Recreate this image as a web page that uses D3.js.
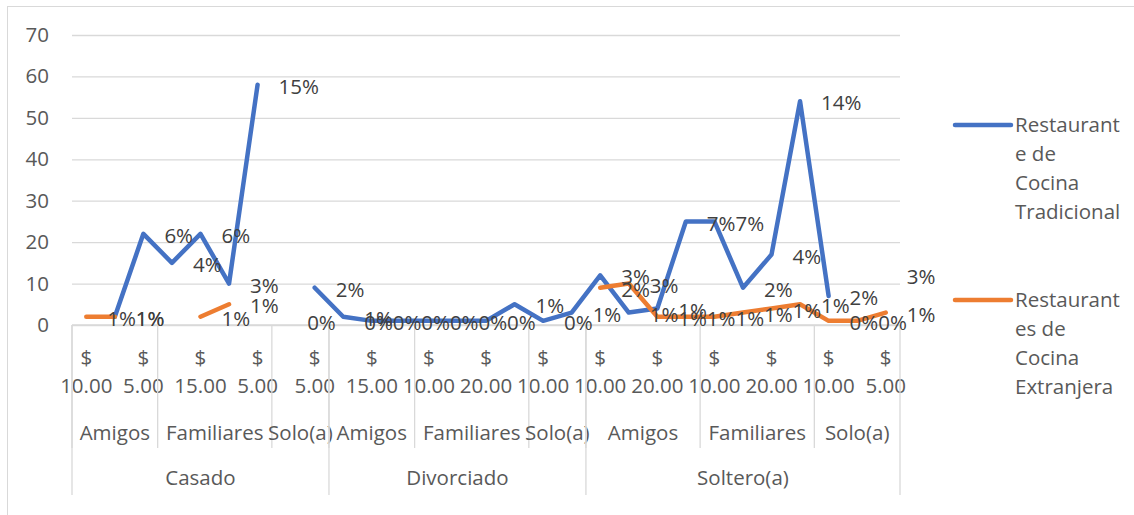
<!DOCTYPE html>
<html>
<head>
<meta charset="utf-8">
<script src="https://cdn.jsdelivr.net/npm/d3@7"></script>
<style>
body { margin: 0; background: #fff; }
text { font-family: "Open Sans", sans-serif; }
</style>
</head>
<body>
<div id="chartdiv"></div>
<script>
var estados = ["Casado", "Divorciado", "Soltero(a)"];
var companias = ["Amigos", "Familiares", "Solo(a)"];
var precios = [
  [["$ 10.00", "$ 15.00", "$ 5.00"], ["$ 10.00", "$ 15.00", "$ 20.00", "$ 5.00"], ["$ 10.00", "$ 5.00"]],
  [["$ 10.00", "$ 15.00", "$ 20.00"], ["$ 10.00", "$ 15.00", "$ 20.00", "$ 5.00"], ["$ 10.00", "$ 15.00"]],
  [["$ 10.00", "$ 15.00", "$ 20.00", "$ 5.00"], ["$ 10.00", "$ 15.00", "$ 20.00", "$ 5.00"], ["$ 10.00", "$ 15.00", "$ 5.00"]]
];

var tradicional = [null, 2, 22, 15, 22, 10, 58, null, 9, 2, 1, 1, 1, 1, 1, 5, 1, 3, 12, 3, 4, 25, 25, 9, 17, 54, 7, null, 12];
var extranjera = [2, 2, null, null, 2, 5, null, 1, null, 1, null, null, null, null, null, null, null, null, 9, 10, 2, 2, 2, 3, 4, 5, 1, 1, 3];

var etqTradicional = [null, "1%", "6%", "4%", "6%", "3%", "15%", null, "2%", "1%", "0%", "0%", "0%", "0%", "0%", "1%", "0%", "1%", "3%", "1%", "1%", "7%", "7%", "2%", "4%", "14%", "2%", null, "3%"];
var etqExtranjera = ["1%", "1%", null, null, "1%", "1%", null, "0%", null, "0%", null, null, null, null, null, null, null, null, "2%", "3%", "1%", "1%", "1%", "1%", "1%", "1%", "0%", "0%", "1%"];

var nombres = [["Restaurant", "e de", "Cocina", "Tradicional"], ["Restaurant", "es de", "Cocina", "Extranjera"]];
var colores = ["#4472C4", "#ED7D31"];
var yTicks = [0, 10, 20, 30, 40, 50, 60, 70];

function drawChart() {
  // flatten the three category levels
  var cats = [];
  estados.forEach(function (e, gi) {
    companias.forEach(function (c, si) {
      precios[gi][si].forEach(function (p) {
        cats.push({estado: e, con: c, precio: p, key: e + "|" + c + "|" + p});
      });
    });
  });

  var W = 1134, H = 515;
  var pl = 72, pr = 900, pt = 35, pb = 325;
  var fs = "20.5px", grey = "#595959", grid = "#d9d9d9";

  var svg = d3.select("#chartdiv").append("svg")
    .attr("width", W).attr("height", H);

  svg.append("rect")
    .attr("x", 7.5).attr("y", 6.5).attr("width", W).attr("height", H)
    .attr("fill", "none").attr("stroke", grid);

  var x = d3.scaleBand().domain(cats.map(function (d) { return d.key; })).range([pl, pr]);
  var y = d3.scaleLinear().domain([0, 70]).range([pb, pt]);
  var cx = function (i) { return x(cats[i].key) + x.bandwidth() / 2; };

  // y axis with gridlines
  var ya = svg.append("g")
    .attr("transform", "translate(" + pl + ",0)")
    .call(d3.axisLeft(y).tickValues(yTicks).tickSize(-(pr - pl)).tickPadding(23));
  ya.select(".domain").remove();
  ya.selectAll("line").attr("stroke", grid).attr("stroke-width", 1.3);
  ya.selectAll("text").attr("fill", grey).style("font-size", fs).style("font-family", "Open Sans");

  // category axis
  var xa = svg.append("g");
  xa.append("line").attr("x1", pl).attr("x2", pr).attr("y1", pb).attr("y2", pb)
    .attr("stroke", grid).attr("stroke-width", 1.3);

  cats.forEach(function (c, i) {
    if (i % 2 != 0) return;
    var parts = c.precio.split(" ");
    xa.append("text").attr("x", cx(i)).attr("y", 358).attr("dy", "0.35em")
      .attr("text-anchor", "middle").attr("fill", grey).style("font-size", fs).text(parts[0]);
    xa.append("text").attr("x", cx(i)).attr("y", 386).attr("dy", "0.35em")
      .attr("text-anchor", "middle").attr("fill", grey).style("font-size", fs).text(parts[1]);
  });

  function runs(field) {
    var out = [];
    cats.forEach(function (c, i) {
      var k = field == "estado" ? c.estado : c.estado + "|" + c.con;
      if (!out.length || out[out.length - 1].k != k) out.push({k: k, label: c[field], a: i, b: i});
      else out[out.length - 1].b = i;
    });
    return out;
  }

  var subs = runs("con"), grps = runs("estado");
  subs.forEach(function (s) {
    var x0 = x(cats[s.a].key), x1 = x(cats[s.b].key) + x.bandwidth();
    xa.append("line").attr("x1", x0).attr("x2", x0).attr("y1", pb).attr("y2", 448)
      .attr("stroke", grid).attr("stroke-width", 1.3);
    xa.append("text").attr("x", (x0 + x1) / 2).attr("y", 433).attr("dy", "0.35em")
      .attr("text-anchor", "middle").attr("fill", grey).style("font-size", fs).text(s.label);
  });
  grps.forEach(function (g) {
    var x0 = x(cats[g.a].key), x1 = x(cats[g.b].key) + x.bandwidth();
    xa.append("line").attr("x1", x0).attr("x2", x0).attr("y1", pb).attr("y2", 495)
      .attr("stroke", grid).attr("stroke-width", 1.3);
    xa.append("text").attr("x", (x0 + x1) / 2).attr("y", 478).attr("dy", "0.35em")
      .attr("text-anchor", "middle").attr("fill", grey).style("font-size", fs).text(g.label);
  });
  xa.append("line").attr("x1", pr).attr("x2", pr).attr("y1", pb).attr("y2", 495)
    .attr("stroke", grid).attr("stroke-width", 1.3);

  // series (isolated points are not drawn, like Excel without markers)
  var series = [tradicional, extranjera];
  var etiquetas = [etqTradicional, etqExtranjera];

  series.forEach(function (v, si) {
    var line = d3.line()
      .defined(function (d, i) { return d != null && (v[i - 1] != null || v[i + 1] != null); })
      .x(function (d, i) { return cx(i); })
      .y(function (d) { return y(d); });
    svg.append("path").datum(v)
      .attr("d", line)
      .attr("fill", "none")
      .attr("stroke", colores[si])
      .attr("stroke-width", 4.5)
      .attr("stroke-linejoin", "round")
      .attr("stroke-linecap", "round");
  });

  series.forEach(function (v, si) {
    v.forEach(function (d, i) {
      if (d == null || etiquetas[si][i] == null) return;
      svg.append("text")
        .attr("x", cx(i) + 21).attr("y", y(d) + 2).attr("dy", "0.35em")
        .attr("fill", "#404040").style("font-size", fs)
        .text(etiquetas[si][i]);
    });
  });

  // legend
  var legY = [125, 300];
  nombres.forEach(function (n, si) {
    var g = svg.append("g");
    g.append("line").attr("x1", 955).attr("x2", 1011).attr("y1", legY[si]).attr("y2", legY[si])
      .attr("stroke", colores[si]).attr("stroke-width", 4.5).attr("stroke-linecap", "round");
    n.forEach(function (t, k) {
      g.append("text").attr("x", 1015).attr("y", legY[si] + k * 29).attr("dy", "0.35em")
        .attr("fill", grey).style("font-size", fs).text(t);
    });
  });
}
drawChart();
</script>
</body>
</html>
